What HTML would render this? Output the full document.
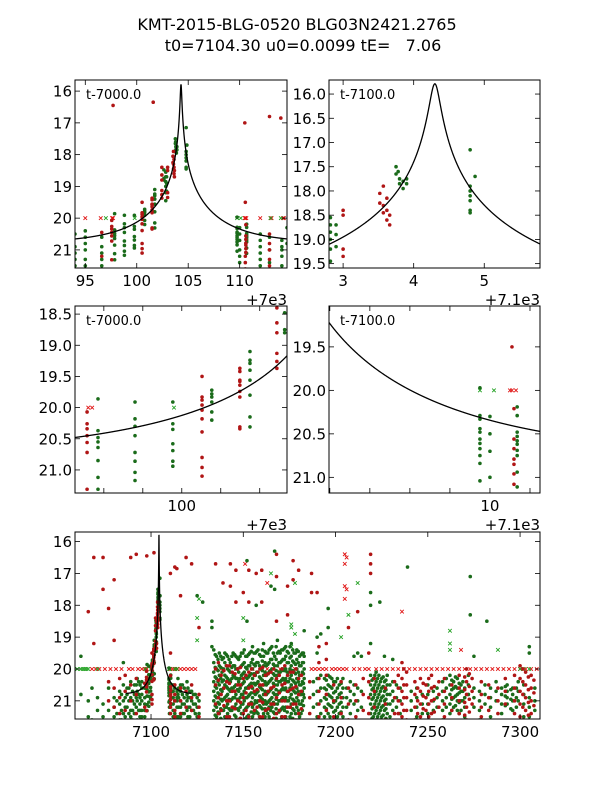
<!DOCTYPE html>
<html><head><meta charset="utf-8"><style>
html,body{margin:0;padding:0;background:#fff;}
svg{display:block;font-family:"DejaVu Sans","Liberation Sans",sans-serif;}
</style></head><body>
<svg id="fig" width="600" height="800" viewBox="0 0 600 800" xmlns="http://www.w3.org/2000/svg">
<rect x="0" y="0" width="600" height="800" fill="#fff"/>
<text x="297" y="30" font-size="16" text-anchor="middle">KMT-2015-BLG-0520 BLG03N2421.2765</text>
<text x="303" y="51" font-size="16" text-anchor="middle" xml:space="preserve" style="white-space:pre">t0=7104.30 u0=0.0099 tE=   7.06</text>
</svg>
<script>
// model parameters
const t0 = 104.30, u0 = 0.0099, tE = 7.06, mBase = 20.8;
// times are (HJD' - 7000); each entry: [time, [magnitudes]]
const greenNights = [
[94.0,[20.5,20.9,21.1,21.3,21.5]],[95.0,[20.4,20.6,20.8,21.0,21.3,21.5]],[96.6,[20.6,20.9,21.1,21.3,21.5]],
[97.85,[19.86,20.37,20.48,20.64,20.85,21.12,21.31,20.55]],[98.8,[19.91,20.18,20.45,20.72,20.86,21.04,21.17,20.3]],
[99.77,[19.91,20.26,20.58,20.69,20.86,20.94,20.35]],[100.77,[19.72,19.78,19.83,19.91,20.07,20.2]],
[101.75,[19.10,19.24,19.29,19.4,19.56,19.8,20.15,20.31]],[102.64,[18.48,18.75,18.8]],[102.9,[18.7,18.9,19.15]],
[102.82,[18.55,18.7,18.85,19.0,19.2,19.45]],[103.75,[17.5,17.65]],[103.8,[17.75,17.85]],[103.85,[17.8,17.95]],
[103.78,[17.6]],[103.9,[17.75,17.85]],[104.8,[17.15,17.9,18.0,18.1,18.2,18.4,18.45]],[104.87,[17.7]],
[109.75,[19.97,20.29,20.33,20.44,20.48,20.56,20.61,20.67,20.75,20.84,21.04]],
[110.0,[20.3,20.5,20.7,21.0,21.2,21.4]],
[110.68,[20.19,20.29,20.48,20.53,20.58,20.62,20.69,20.75,20.94,21.11]],
[112.0,[20.5,20.7,20.9,21.1,21.3,21.5]],[112.9,[20.6,21.0,21.4]],[114.1,[20.7,20.9,21.0,21.2,21.5]],[114.6,[20.3,20.8]],
[62,[19.6,20.8]],[66,[21.0,21.5]],[68,[20.6,21.6]],[71,[21.3,20.9]],[74,[21.5,21.1]],[77,[20.6,21.3]],
[80,[20.9,21.5,21.2]],[83,[20.7,21.1,21.6]],[85,[21.0,20.5,21.4,19.8]],[87,[20.8,21.2,20.6]],
[89,[20.4,20.9,21.3,21.5]],[91,[20.5,20.8,21.1,21.4]],[92.5,[20.3,20.7,21.0,21.6]],
[81.5,[21.0,21.4]],[84,[20.8,21.3,21.6]],[86,[20.9,21.2,21.5]],[88,[20.6,21.0,21.4]],[90,[20.7,21.0,21.3,21.6]],[92,[20.5,20.9,21.2]],[93.3,[20.4,20.8,21.3]],
[116,[20.5,20.7,21.0,21.2,21.5]],[118,[20.6,20.9,21.1,21.4]],[119.5,[20.4,20.8,21.0,21.3,21.6]],
[121,[20.7,20.9,21.2,21.5]],[123,[20.8,21.1,21.3]],[125,[20.9,21.2,21.5,17.7]],[126,[21.0,21.4]],
[115,[20.6,20.9,21.2,21.5]],[117,[20.5,20.8,21.1,21.4]],[120,[20.6,20.9,21.2,21.5]],[122,[20.7,21.0,21.3]],[124,[20.8,21.1,21.4]],
[133,[18.5,18.7,19.3]],[128,[17.9]],[152,[16.6,18.5]],[157,[18.0]],[165,[17.4]],[167,[16.3,17.5]],
[183,[18.8]],[196,[18.1,18.7]],[219,[17.6,18.0]],[224,[17.9]],[239,[16.8]],[273,[17.1,18.3]],[282,[18.5]],[305,[19.3,19.5]],
[134,[19.4,19.8,20.1,20.4,20.7,21.0,21.3,21.6]],[135.5,[19.6,20.0,20.3,20.6,20.9,21.2,21.5]],
[137,[19.5,19.9,20.2,20.5,20.8,21.1,21.4]],[138.5,[19.7,20.1,20.4,20.7,21.0,21.3,21.6]],
[140,[19.5,19.8,20.2,20.5,20.9,21.2,21.5]],[141.5,[19.6,20.0,20.3,20.6,20.8,21.1,21.4]],
[143,[19.8,20.1,20.4,20.7,21.0,21.3,21.6]],[144.5,[19.5,19.9,20.2,20.6,20.9,21.2]],
[146,[19.6,20.0,20.3,20.5,20.8,21.1,21.5]],[147.5,[19.7,20.1,20.4,20.7,21.0,21.3]],
[149,[19.5,19.9,20.2,20.5,20.8,21.1,21.4]],[150.5,[19.4,19.8,20.1,20.4,20.7,21.0,21.3,21.6]],
[152,[19.6,20.0,20.3,20.6,20.9,21.2,21.5]],[153.5,[19.5,19.9,20.2,20.5,20.8,21.1]],
[155,[19.3,19.7,20.0,20.3,20.6,20.9,21.2,21.5]],[156.5,[19.5,19.9,20.2,20.5,20.8,21.0,21.3]],
[158,[19.4,19.8,20.1,20.4,20.7,21.0,21.4]],[159.5,[19.6,20.0,20.3,20.6,20.9,21.2,21.6]],
[161,[19.2,19.6,19.9,20.2,20.5,20.8,21.1,21.4]],[162.5,[19.5,19.9,20.2,20.5,20.8,21.1,21.3]],
[164,[19.4,19.8,20.1,20.4,20.7,21.0,21.2,21.5]],[165.5,[19.3,19.7,20.0,20.3,20.6,20.9,21.2]],
[167,[19.6,19.9,20.2,20.5,20.8,21.1,21.4]],[168.5,[19.1,19.5,19.9,20.2,20.5,20.8,21.1]],
[170,[19.5,19.8,20.1,20.4,20.7,21.0,21.3,21.6]],[171.5,[19.4,19.7,20.0,20.3,20.6,20.9,21.2]],
[173,[19.3,19.6,20.0,20.3,20.6,20.9,21.2,21.5]],[174.5,[19.5,19.8,20.1,20.4,20.7,21.0]],
[176,[19.2,19.6,19.9,20.2,20.5,20.8,21.1,21.4]],[177.5,[19.5,19.8,20.1,20.4,20.7,21.0,21.3]],
[179,[19.4,19.7,20.0,20.3,20.6,20.9,21.2]],[180.5,[19.6,19.9,20.2,20.5,20.8,21.1,21.5]],
[182,[19.5,19.8,20.1,20.4,20.7,21.0,21.3]],[183,[19.6,20.0,20.3,20.6,20.9]],
[134.8,[19.55,19.95,20.25,20.55,20.85,21.15,21.45]],[136.3,[19.7,20.05,20.4,20.75,21.05,21.35,21.6]],
[137.8,[19.6,19.95,20.3,20.65,20.95,21.25,21.55]],[139.3,[19.65,20.0,20.35,20.6,20.95,21.3]],
[140.8,[19.55,19.9,20.25,20.55,20.85,21.2,21.55]],[142.3,[19.7,20.05,20.35,20.65,20.95,21.25,21.5]],
[143.8,[19.6,19.95,20.3,20.6,20.95,21.3,21.6]],[145.3,[19.55,19.9,20.25,20.55,20.9,21.2,21.45]],
[146.8,[19.65,20.0,20.3,20.65,20.95,21.25]],[148.3,[19.6,19.95,20.3,20.6,20.9,21.2,21.55]],
[149.8,[19.5,19.85,20.15,20.45,20.8,21.1,21.4]],[151.3,[19.6,19.95,20.25,20.6,20.9,21.25,21.55]],
[152.8,[19.55,19.9,20.25,20.55,20.85,21.15,21.45]],[154.3,[19.45,19.8,20.15,20.45,20.75,21.05,21.35,21.6]],
[155.8,[19.5,19.85,20.15,20.45,20.75,21.1,21.4]],[157.3,[19.45,19.8,20.1,20.45,20.75,21.05,21.35]],
[158.8,[19.55,19.9,20.25,20.55,20.85,21.15,21.5]],[160.3,[19.4,19.75,20.05,20.35,20.65,20.95,21.25,21.55]],
[161.8,[19.45,19.8,20.1,20.4,20.7,21.0,21.25,21.5]],[163.3,[19.5,19.85,20.15,20.45,20.75,21.05,21.4]],
[164.8,[19.35,19.7,20.05,20.35,20.65,20.95,21.3,21.6]],[166.3,[19.5,19.85,20.15,20.45,20.75,21.05,21.35]],
[167.8,[19.3,19.7,20.05,20.35,20.65,20.95,21.25,21.55]],[169.3,[19.45,19.8,20.1,20.4,20.7,21.0,21.35]],
[170.8,[19.4,19.75,20.05,20.35,20.65,20.95,21.25,21.5]],[172.3,[19.35,19.7,20.05,20.35,20.65,20.95,21.3]],
[173.8,[19.45,19.8,20.1,20.4,20.7,21.0,21.35,21.6]],[175.3,[19.3,19.65,20.0,20.3,20.6,20.9,21.2,21.5]],
[176.8,[19.4,19.75,20.05,20.35,20.65,20.95,21.25,21.55]],[178.3,[19.5,19.85,20.15,20.45,20.75,21.05,21.4]],
[179.8,[19.45,19.8,20.1,20.4,20.7,21.0,21.3,21.6]],[181.3,[19.55,19.9,20.2,20.5,20.8,21.1,21.4]],[182.6,[19.5,19.8,20.15,20.45,20.8,21.15]],
[188,[20.4,20.8,21.2]],[190,[19.0,19.5,20.3,20.7,21.1,21.5]],[192,[18.9,20.2,20.6,21.0,21.4]],
[194,[20.3,20.6,20.9,21.2,21.5]],[196,[20.2,20.5,20.8,21.1,21.4]],[198,[20.3,20.6,20.9,21.2]],
[200,[20.4,20.7,21.0,21.3,21.6]],[202,[20.5,20.8,21.1,21.4]],[204,[20.3,20.6,20.9,21.2,21.5]],
[206,[20.6,20.9,21.2]],[208,[20.4,20.7,21.0,21.4]],[210,[19.6,20.5,20.8,21.1]],[212,[19.5,20.6,21.0,21.3]],
[195,[20.35,20.65,20.95,21.25]],[197,[20.25,20.55,20.85,21.15,21.5]],[199,[20.4,20.75,21.05,21.35]],[201,[20.3,20.6,20.9,21.2,21.5]],[203,[20.45,20.75,21.05,21.35]],
[214,[19.6,20.7,21.2]],[219,[19.2,20.2,20.5,20.8,21.1,21.4]],[220.5,[20.3,20.6,20.9,21.2,21.5]],
[222,[20.1,20.4,20.7,21.0,21.3,21.6]],[223.5,[20.2,20.5,20.8,21.1,21.4]],[225,[20.3,20.6,20.9,21.2,21.5]],
[226.5,[19.6,20.4,20.7,21.0,21.3]],[228,[20.2,20.5,20.8,21.1,21.4]],[229.5,[20.5,20.8,21.1,21.5]],
[219.8,[20.35,20.65,20.95,21.25,21.55]],[221.3,[20.2,20.5,20.8,21.1,21.4]],[222.8,[20.3,20.6,20.9,21.2,21.5]],[224.3,[20.4,20.7,21.0,21.3,21.6]],[225.8,[20.25,20.55,20.85,21.15,21.45]],[227.3,[20.35,20.65,20.95,21.25,21.55]],
[231,[19.7,20.4,20.7,21.0,21.3]],[233,[20.5,20.9,21.2]],[235,[20.6,21.0,21.4]],
[241,[20.7,21.0,21.3]],[244,[20.6,20.9,21.2,21.5]],[247,[20.8,21.1,21.4]],[250,[20.5,20.8,21.1,21.4]],
[253,[20.7,21.0,21.3]],[255,[20.6,20.9,21.2]],[258,[20.4,20.7,21.0,21.3,21.6]],[260,[20.3,20.6,20.9,21.2]],
[262,[20.2,20.5,20.8,21.1,21.4]],[264,[20.4,20.6,20.9,21.2]],[266,[20.3,20.6,20.8,21.0,21.3]],
[268,[20.5,20.7,21.0,21.3]],[270,[20.6,20.9,21.2,21.5]],[272,[20.2,20.5,20.8]],[275,[19.6,20.6,20.9,21.2]],
[278,[20.7,21.0,21.3,21.6]],[281,[20.5,20.8,21.1]],[284,[20.6,20.9,21.2,21.5]],[287,[20.4,20.7,21.0]],
[290,[20.6,20.8,21.1,21.4]],[293,[20.5,20.7,20.9,21.1]],[296,[20.6,20.8,21.0,21.3]],[299,[20.4,20.7,21.0]],
[302,[20.5,20.8,21.1,21.5]],[305,[20.9,21.2,21.5]],[308,[20.6,21.0,21.3]],
[263,[20.35,20.65,20.95,21.3]],[265,[20.25,20.55,20.85,21.15]],[267,[20.45,20.75,21.05,21.4]],[269,[20.4,20.7,21.0]],[292,[20.55,20.85,21.15]],[295,[20.65,20.95,21.25]],[298,[20.6,20.9,21.2]]
];
const redNights = [
[97.57,[20.07,20.26,20.34,20.45,20.56,20.72,21.31]],[97.7,[16.45]],[96.6,[20.45,21.2]],
[100.52,[19.50,19.83,19.88,19.96,20.04,20.18,20.39,20.8,20.96,21.1]],
[101.49,[19.37,19.42,19.56,19.58,19.64,19.74,19.83,20.31,20.34]],[101.6,[16.35]],
[102.44,[18.4,18.64,18.8,19.13,19.26,19.37]],[103.0,[18.4,18.5,19.2,19.35]],
[103.52,[18.05,18.25]],[103.57,[17.9,18.3,18.45]],[103.62,[18.15,18.4,18.6]],[103.66,[18.5,18.7]],
[110.5,[17.0]],[110.6,[20.21,20.56,20.67,20.79,20.85,20.96,21.08]],[110.55,[19.5,21.2,21.4,21.6]],
[112.9,[16.8,20.5,20.8,21.0,21.3,21.5]],[114.0,[16.85]],
[66,[18.2]],[69,[16.5,19.2]],[74,[16.5,17.5]],[77,[18.1,20.4,21.0]],[80,[17.2,19.1,20.6,21.2]],
[83,[20.3,20.9,21.4]],[86,[20.2,20.7,21.3]],[89,[16.5,20.5,21.0]],[92,[16.4,20.3,20.8,21.4]],
[116,[17.7,20.6,21.0,21.4]],[119,[16.5,20.7,21.2,21.6]],[122,[16.7,20.5,20.9,21.3]],[126,[18.7,20.8,21.2,21.5]],
[135,[16.7,20.0,20.5,21.1,21.6]],[139,[17.3]],[143,[16.7,17.4]],[146,[17.9,16.9]],[150,[17.6]],[153,[17.9,16.9]],
[157,[17.0]],[160,[16.9,17.9]],[168,[17.1,18.5,16.4]],[174,[17.4,18.3]],[177,[17.2,16.6]],[180,[16.9]],
[187,[17.0,17.6]],[190,[17.6]],[219,[16.4,16.7,17.0]],[212,[18.2]],
[138,[20.2,20.8,21.3]],[141,[19.9,20.4,21.0,21.5]],[144,[20.1,20.7,21.2]],[147,[20.0,20.5,21.0,21.6]],
[150,[20.3,20.9,21.4]],[153,[20.1,20.6,21.1,21.5]],[156,[20.2,20.7,21.3]],[159,[20.0,20.5,21.0,21.5]],
[162,[20.2,20.8,21.3]],[165,[20.1,20.6,21.1,21.6]],[168,[20.3,20.9,21.4]],[171,[20.0,20.5,21.0,21.5]],
[174,[20.2,20.7,21.2]],[177,[20.1,20.6,21.1,21.6]],[180,[20.3,20.8,21.4]],
[136.5,[19.8,20.35,20.9,21.4]],[139.5,[20.05,20.6,21.15]],[142.5,[19.9,20.45,21.0,21.5]],[145.5,[20.15,20.7,21.25]],
[148.5,[19.95,20.5,21.05,21.55]],[151.5,[20.2,20.75,21.3]],[154.5,[20.0,20.55,21.1,21.6]],[157.5,[20.1,20.65,21.2]],
[160.5,[19.95,20.5,21.05,21.5]],[163.5,[20.15,20.7,21.25]],[166.5,[20.0,20.55,21.1,21.55]],[169.5,[20.2,20.75,21.3]],
[172.5,[19.9,20.45,21.0,21.5]],[175.5,[20.1,20.65,21.2]],[178.5,[20.0,20.55,21.1,21.6]],[181.5,[20.2,20.7,21.25]],
[186,[20.4,20.9,21.4]],[191,[19.3,19.8,20.3,20.7,21.1,21.5]],[195,[19.2,19.7,20.2,20.8,21.3]],
[199,[20.5,21.0,21.5]],[203,[20.4,20.9,21.4]],[207,[18.7,20.6,21.1,21.6]],[211,[20.5,21.0,21.5]],
[215,[20.3,20.8,21.3]],[218,[19.5,20.4,20.9,21.4]],[221,[20.3,20.7,21.2]],[227,[20.6,21.1,21.6]],
[232,[20.4,20.9,21.4]],[236,[19.8,20.3,20.7,21.1,21.5]],[237,[20.0,20.5,20.9,21.3]],
[234,[20.2,20.6,21.0,21.4]],[238.5,[20.1,20.5,20.9,21.3,21.6]],
[243,[20.4,20.8,21.2,21.6]],[246,[20.3,20.7,21.1,21.5]],[249,[20.5,20.9,21.3]],[252,[20.2,20.6,21.0,21.4]],
[256,[20.4,20.8,21.2]],[259,[20.3,20.7,21.1,21.5]],[263,[20.5,20.9,21.3]],[267,[20.2,20.6,21.0,21.4]],
[271,[20.0,20.4,20.8,21.2,21.6]],[274,[20.3,20.7,21.1]],[279,[20.4,20.8,21.2,21.5]],[283,[20.5,20.9,21.3]],
[288,[20.6,21.0,21.4]],[292,[20.3,20.7,21.1]],[297,[20.2,20.6,21.0,21.4]],[300,[19.9,20.3,20.7,21.1,21.5]],
[303,[20.1,20.5,20.9,21.3]],[306,[20.2,20.6,21.0,21.4]],
[244.5,[20.6,21.0,21.4]],[247.5,[20.45,20.85,21.25]],[250.5,[20.3,20.7,21.1,21.5]],[253.5,[20.55,20.95,21.35]],
[270,[20.25,20.65,21.05,21.45]],[272.5,[20.15,20.55,20.95,21.35]],[301.5,[20.0,20.4,20.8,21.2,21.6]],[304.5,[20.25,20.65,21.05,21.45]],[307.5,[20.35,20.75,21.15]]
];
const redCrossTimes = [68,70,72,75,78,81,84,88,90,93,95,96.5,97.6,97.7,110.5,110.55,110.65,112,113,113.1,114.2,114.3,116,118,120,122,124,138,146,155,163,170,178,187,189,191,193,195,198,200,202,204,206,210,213,216,218,222,225,228,231,234,237,240,243,246,249,252,255,258,261,264,267,270,273,276,279,282,285,288,291,294,297,300,303,306,309];
const redCrossMag = 20.0;
const redCrossOutliers = [[151,16.7],[163,17.3],[205,16.4],[205,16.7],[205,17.4],[205,17.8],[206,16.5],[206,17.5],[236,18.2],[268,19.4]];
const greenCrossTimes = [60,62,63,64,65,66,71,97.0,99.8,109.75,110.1,113,114,300,302,305];
const greenCrossMag = 20.0;
const greenCrossOutliers = [[125,18.4],[125,19.1],[126,17.8],[150,19.1],[150,18.4],[176,18.6],[176,18.7],[176,19.3],[178,18.9],[178,17.3],[203,19.0],[207,18.3],[262,18.8],[262,19.2],[262,19.4],[288,19.4],[212,17.3],[165,17.0]];

// panel axis windows
const panels = [
 {name:'panel-peak-wide', box:[75,80,287,268], xr:[94.0,114.6], yr:[15.65,21.57], xt:[95,100,105,110], xl:['95','100','105','110'], yt:[16,17,18,19,20,21], yl:['16','17','18','19','20','21'], lab:'t-7000.0', off:'+7e3', model:[90,120]},
 {name:'panel-peak-zoom', box:[329,80,540,268], xr:[102.80,105.79], yr:[15.71,19.59], xt:[103,104,105], xl:['3','4','5'], yt:[16,16.5,17,17.5,18,18.5,19,19.5], yl:['16.0','16.5','17.0','17.5','18.0','18.5','19.0','19.5'], lab:'t-7100.0', off:'+7.1e3', model:[100,110]},
 {name:'panel-rise', box:[75,306,287,493], xr:[97.26,102.70], yr:[18.37,21.37], xt:[98,99,100,101,102], xl:['','','100','',''], yt:[18.5,19,19.5,20,20.5,21], yl:['18.5','19.0','19.5','20.0','20.5','21.0'], lab:'t-7000.0', off:'+7e3', model:[95,105]},
 {name:'panel-decline', box:[329,306,540,493], xr:[105.98,111.25], yr:[19.03,21.18], xt:[106,107,108,109,110,111], xl:['','','','','10',''], yt:[19.5,20,20.5,21], yl:['19.5','20.0','20.5','21.0'], lab:'t-7100.0', off:'+7.1e3', model:[104,115]},
 {name:'panel-full-season', box:[75,532,540,719], xr:[58.8,310.8], yr:[15.70,21.57], xt:[100,150,200,250,300], xl:['7100','7150','7200','7250','7300'], yt:[16,17,18,19,20,21], yl:['16','17','18','19','20','21'], lab:null, off:null, model:[86.5,122]}
];

const NS='http://www.w3.org/2000/svg';
const svg=document.getElementById('fig');
function el(tag,attrs,parent){const e=document.createElementNS(NS,tag);for(const k in attrs)e.setAttribute(k,attrs[k]);(parent||svg).appendChild(e);return e;}
function modelMag(t){const tau=(t-t0)/tE;const u=Math.sqrt(u0*u0+tau*tau);const A=(u*u+2)/(u*Math.sqrt(u*u+4));return mBase-2.5*Math.log10(A);}

const offTexts=[];
panels.forEach((p,i)=>{
  const [x0,y0,x1,y1]=p.box;
  const sx=t=>x0+(t-p.xr[0])/(p.xr[1]-p.xr[0])*(x1-x0);
  const sy=m=>y0+(m-p.yr[0])/(p.yr[1]-p.yr[0])*(y1-y0);
  const g=el('g',{});
  
  
  el('rect',{x:x0,y:y0,width:x1-x0,height:y1-y0,fill:'#fff'},g);
  const cid='clip'+i;
  const cp=el('clipPath',{id:cid},g);el('rect',{x:x0,y:y0,width:x1-x0,height:y1-y0},cp);
  const data=el('g',{'clip-path':'url(#'+cid+')'},g);
  function cross(t,m,col,name){const x=sx(t),y=sy(m);if(x<x0-4||x>x1+4)return;const c=el('path',{d:`M${x-1.8},${y-1.8}L${x+1.8},${y+1.8}M${x-1.8},${y+1.8}L${x+1.8},${y-1.8}`,stroke:col,'stroke-width':0.9,fill:'none'},data);
    
    }
  redCrossTimes.forEach(t=>cross(t,redCrossMag,'#e01010','red-upper-limit'));
  redCrossOutliers.forEach(d=>cross(d[0],d[1],'#e01010','red-upper-limit'));
  greenCrossTimes.forEach(t=>cross(t,greenCrossMag,'#20a020','green-upper-limit'));
  greenCrossOutliers.forEach(d=>cross(d[0],d[1],'#20a020','green-upper-limit'));
  function dots(nights,col,name){nights.forEach(n=>{const x=sx(n[0]);if(x<x0-4||x>x1+4)return;n[1].forEach(m=>{
    const c=el('circle',{cx:x,cy:sy(m),r:1.8,fill:col},data);
    
    });});}
  dots(greenNights,'#1a6b1a','green-data-point');
  dots(redNights,'#b01515','red-data-point');
  // model curve
  const a=Math.max(p.xr[0],p.model[0]), b=Math.min(p.xr[1],p.model[1]);
  const pts=[];const N=1200;for(let k=0;k<=N;k++)pts.push(a+(b-a)*k/N);
  if(t0>a&&t0<b){pts.push(t0);pts.sort((q,r)=>q-r);}
  let d='';pts.forEach((t,k)=>{d+=(k?'L':'M')+sx(t).toFixed(2)+','+sy(modelMag(t)).toFixed(2);});
  const cv=el('path',{d:d,fill:'none',stroke:'#000','stroke-width':1.3},data);
  
  
  el('rect',{x:x0,y:y0,width:x1-x0,height:y1-y0,fill:'none',stroke:'#000','stroke-width':1},g);
  p.xt.forEach((t,j)=>{const x=sx(t);
    el('line',{x1:x,y1:y1,x2:x,y2:y1-5,stroke:'#000','stroke-width':0.8},g);
    el('line',{x1:x,y1:y0,x2:x,y2:y0+5,stroke:'#000','stroke-width':0.8},g);
    if(p.xl[j]){const tx=el('text',{x:x,y:y1+18,'font-size':15,'text-anchor':'middle'},g);tx.textContent=p.xl[j];
      
      }
  });
  p.yt.forEach((m,j)=>{const y=sy(m);
    el('line',{x1:x0,y1:y,x2:x0+5,y2:y,stroke:'#000','stroke-width':0.8},g);
    el('line',{x1:x1,y1:y,x2:x1-5,y2:y,stroke:'#000','stroke-width':0.8},g);
    const tx=el('text',{x:x0-3,y:y+5.5,'font-size':15,'text-anchor':'end'},g);tx.textContent=p.yl[j];
    
    
  });
  if(p.lab){const tl=el('text',{x:x0+11,y:y0+19,'font-size':13},g);tl.textContent=p.lab;
    
    }
  if(p.off){offTexts.push([x1,y1+37,p.off]);}
});
offTexts.forEach(o=>{const to=el('text',{x:o[0],y:o[1],'font-size':15,'text-anchor':'end'});to.textContent=o[2];
  
  });
</script>
</body></html>
